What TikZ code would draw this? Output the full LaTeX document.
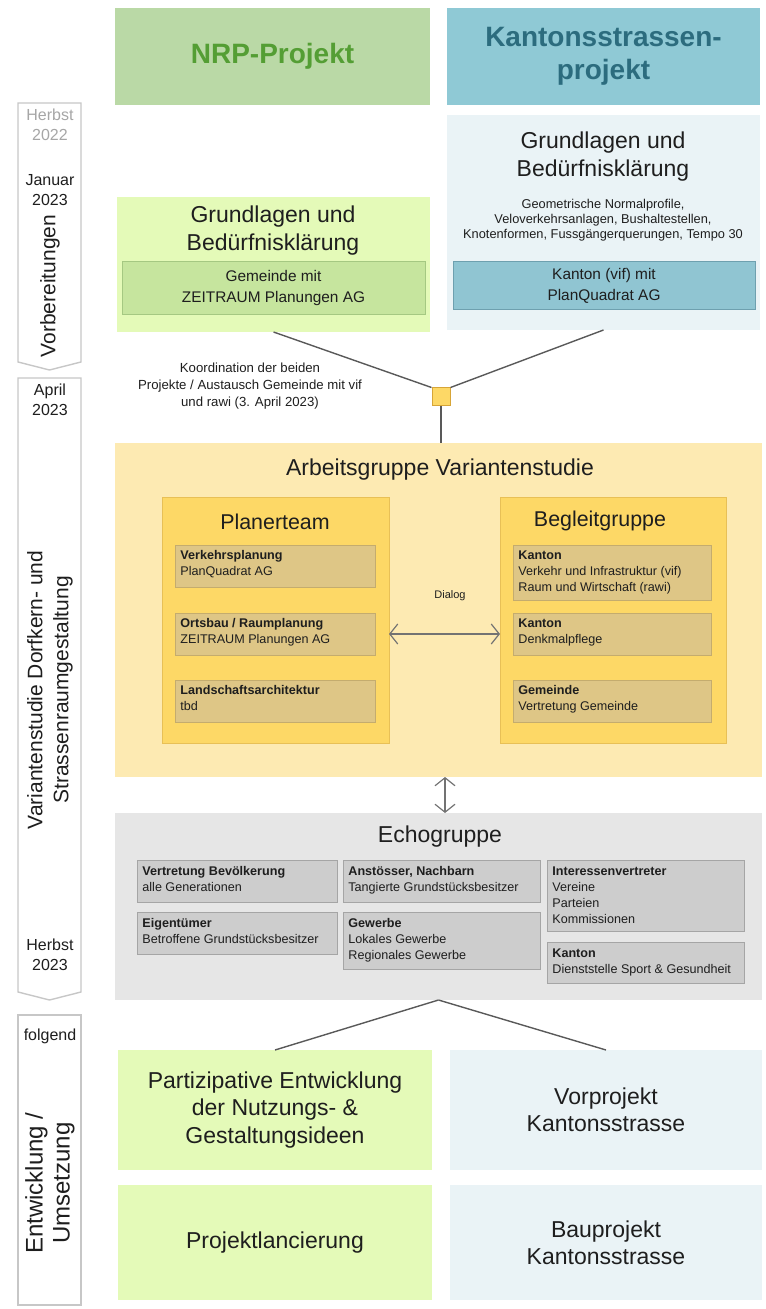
\documentclass[tikz,border=0pt]{standalone}
\usepackage{fontspec}
\setmainfont{Liberation Sans}
\usetikzlibrary{arrows.meta}
\definecolor{nrpHead}{RGB}{186,217,166}
\definecolor{nrpText}{RGB}{84,158,52}
\definecolor{ksHead}{RGB}{143,201,213}
\definecolor{ksText}{RGB}{44,108,126}
\definecolor{lblue}{RGB}{234,243,246}
\definecolor{lime}{RGB}{228,250,184}
\definecolor{igreen}{RGB}{198,229,158}
\definecolor{igreenB}{RGB}{165,200,130}
\definecolor{iblue}{RGB}{144,197,210}
\definecolor{iblueB}{RGB}{110,160,175}
\definecolor{agfill}{RGB}{253,234,178}
\definecolor{yel}{RGB}{253,216,102}
\definecolor{yelB}{RGB}{232,192,86}
\definecolor{tan}{RGB}{222,198,134}
\definecolor{tanB}{RGB}{196,172,110}
\definecolor{sqB}{RGB}{215,165,55}
\definecolor{echo}{RGB}{230,230,230}
\definecolor{esub}{RGB}{205,205,205}
\definecolor{esubB}{RGB}{165,165,165}
\definecolor{txt}{RGB}{30,30,30}
\newcommand\mybox[6]{\node[#6, anchor=north west, inner sep=0pt, outer sep=0pt, minimum width={(#4-#2)*0.5pt}, minimum height={(#5-#3)*0.5pt}] (#1) at (#2,#3) {};}
\tikzset{
  tl/.style={draw=black!22, fill=white, line width=0.7pt},
  tltxt/.style={font=\fontsize{8}{10}\selectfont, align=center, text=txt, inner sep=0pt},
  conn/.style={draw=black!65, line width=0.7pt},
  dbl/.style={draw=black!55, line width=0.6pt, {Straight Barb[length=4pt,width=10pt]}-{Straight Barb[length=4pt,width=10pt]}},
  subg/.style={fill=tan, draw=tanB, line width=0.5pt},
  sube/.style={fill=esub, draw=esubB, line width=0.5pt},
  subtxt/.style={anchor=north west, align=left, inner sep=0pt, text=txt, font=\fontsize{6.3}{8}\selectfont},
  title/.style={align=center, text=txt, inner sep=0pt},
}
\begin{document}
\begin{tikzpicture}[x=0.5pt,y=-0.5pt]
\useasboundingbox (0,0) rectangle (765,1309);
% timeline
\draw[tl] (18,103) -- (81,103) -- (81,362) -- (49.5,370) -- (18,362) -- cycle;
\draw[tl] (18,378) -- (81,378) -- (81,992) -- (49.5,1000) -- (18,992) -- cycle;
\draw[tl] (18,1015) rectangle (81,1305);
\node[tltxt, text=black!35] (h22) at (50,125) {Herbst\\2022};
\node[tltxt] (j23) at (50,190) {Januar\\2023};
\node[tltxt, rotate=90, font=\fontsize{10.5}{12.5}\selectfont] (vorb) at (50,286) {Vorbereitungen};
\node[tltxt] (a23) at (50,400) {April\\2023};
\node[tltxt, rotate=90, font=\fontsize{10.5}{13}\selectfont] (vari) at (50,690) {Variantenstudie Dorfkern- und\\Strassenraumgestaltung};
\node[tltxt] (h23) at (50,955) {Herbst\\2023};
\node[tltxt] (folg) at (50,1036) {folgend};
\node[tltxt, rotate=90, font=\fontsize{12}{13.5}\selectfont] (entw) at (50,1183) {Entwicklung /\\Umsetzung};
% headers
\mybox{nrp}{115}{8}{430}{105}{fill=nrpHead}
\node[title, text=nrpText, font=\fontsize{14}{16.5}\selectfont\bfseries] (nrpt) at (nrp.center) {NRP-Projekt};
\mybox{ks}{447}{8}{760}{105}{fill=ksHead}
\node[title, text=ksText, font=\fontsize{14}{16.5}\selectfont\bfseries] (kst) at (ks.center) {Kantonsstrassen-\\projekt};
% top right
\mybox{tr}{447}{115}{760}{330}{fill=lblue}
\node[title, font=\fontsize{11.5}{14}\selectfont] (trt) at (603,157) {Grundlagen und\\Bedürfnisklärung};
\node[title, font=\fontsize{6.4}{7.6}\selectfont] (trs) at (603,220) {Geometrische Normalprofile,\\Veloverkehrsanlagen, Bushaltestellen,\\Knotenformen, Fussgängerquerungen, Tempo 30};
\mybox{tri}{453}{262}{755}{310}{fill=iblue, draw=iblueB, line width=0.5pt}
\node[title, font=\fontsize{7.7}{10.5}\selectfont] (trit) at (tri.center) {Kanton (vif) mit\\PlanQuadrat AG};
% top left
\mybox{tlb}{117}{197}{430}{332}{fill=lime}
\node[title, font=\fontsize{11.5}{14}\selectfont] (tlt) at (273,231) {Grundlagen und\\Bedürfnisklärung};
\mybox{tli}{122}{262}{425}{315}{fill=igreen, draw=igreenB, line width=0.5pt}
\node[title, font=\fontsize{7.7}{10.5}\selectfont] (tlit) at (tli.center) {Gemeinde mit\\ZEITRAUM Planungen AG};
% coordination
\node[fill=yel, draw=sqB, line width=0.5pt, minimum size=9pt, inner sep=0pt] (sq) at (441,397) {};
\node[title, font=\fontsize{6.6}{8.5}\selectfont] (koord) at (250,386) {Koordination der beiden\\Projekte / Austausch Gemeinde mit vif\\und rawi (3. April 2023)};
% Arbeitsgruppe
\mybox{ag}{115}{443}{762}{777}{fill=agfill}
\node[title, font=\fontsize{11.5}{14}\selectfont] (agt) at (440,470) {Arbeitsgruppe Variantenstudie};
\mybox{pl}{162}{497}{389}{743}{fill=yel, draw=yelB, line width=0.5pt}
\node[title, font=\fontsize{10.7}{13}\selectfont] (plt) at (275,522) {Planerteam};
\mybox{vp}{175}{545}{375}{587}{subg}
\node[subtxt] (vpt) at ([xshift=2.5pt,yshift=-2.5pt]vp.north west) {\textbf{Verkehrsplanung}\\PlanQuadrat AG};
\mybox{ob}{175}{613}{375}{655}{subg}
\node[subtxt] (obt) at ([xshift=2.5pt,yshift=-2.5pt]ob.north west) {\textbf{Ortsbau / Raumplanung}\\ZEITRAUM Planungen AG};
\mybox{la}{175}{680}{375}{722}{subg}
\node[subtxt] (lat) at ([xshift=2.5pt,yshift=-2.5pt]la.north west) {\textbf{Landschaftsarchitektur}\\tbd};
\mybox{bg}{500}{497}{726}{743}{fill=yel, draw=yelB, line width=0.5pt}
\node[title, font=\fontsize{10.7}{13}\selectfont] (bgt) at (600,521) {Begleitgruppe};
\mybox{k1}{513}{545}{711}{600}{subg}
\node[subtxt] (k1t) at ([xshift=2.5pt,yshift=-2.5pt]k1.north west) {\textbf{Kanton}\\Verkehr und Infrastruktur (vif)\\Raum und Wirtschaft (rawi)};
\mybox{k2}{513}{613}{711}{655}{subg}
\node[subtxt] (k2t) at ([xshift=2.5pt,yshift=-2.5pt]k2.north west) {\textbf{Kanton}\\Denkmalpflege};
\mybox{gm}{513}{680}{711}{722}{subg}
\node[subtxt] (gmt) at ([xshift=2.5pt,yshift=-2.5pt]gm.north west) {\textbf{Gemeinde}\\Vertretung Gemeinde};
\node[title, font=\fontsize{5.5}{7}\selectfont] (dia) at (450,596) {Dialog};
% Echogruppe
\mybox{eg}{115}{813}{762}{1000}{fill=echo}
\node[title, font=\fontsize{11.5}{14}\selectfont] (egt) at (440,837) {Echogruppe};
\mybox{e1}{137}{860}{337}{902}{sube}
\node[subtxt] (e1t) at ([xshift=2.5pt,yshift=-3pt]e1.north west) {\textbf{Vertretung Bevölkerung}\\alle Generationen};
\mybox{e2}{137}{912}{337}{954}{sube}
\node[subtxt] (e2t) at ([xshift=2.5pt,yshift=-3pt]e2.north west) {\textbf{Eigentümer}\\Betroffene Grundstücksbesitzer};
\mybox{e3}{343}{860}{540}{902}{sube}
\node[subtxt] (e3t) at ([xshift=2.5pt,yshift=-3pt]e3.north west) {\textbf{Anstösser, Nachbarn}\\Tangierte Grundstücksbesitzer};
\mybox{e4}{343}{912}{540}{969}{sube}
\node[subtxt] (e4t) at ([xshift=2.5pt,yshift=-3pt]e4.north west) {\textbf{Gewerbe}\\Lokales Gewerbe\\Regionales Gewerbe};
\mybox{e5}{547}{860}{744}{931}{sube}
\node[subtxt] (e5t) at ([xshift=2.5pt,yshift=-3pt]e5.north west) {\textbf{Interessenvertreter}\\Vereine\\Parteien\\Kommissionen};
\mybox{e6}{547}{942}{744}{983}{sube}
\node[subtxt] (e6t) at ([xshift=2.5pt,yshift=-3pt]e6.north west) {\textbf{Kanton}\\Dienststelle Sport \& Gesundheit};
% bottom
\mybox{pe}{118}{1050}{432}{1170}{fill=lime}
\node[title, font=\fontsize{11.5}{13.7}\selectfont] (pet) at (pe.center) {Partizipative Entwicklung\\der Nutzungs- \&\\Gestaltungsideen};
\mybox{vk}{450}{1050}{762}{1170}{fill=lblue}
\node[title, font=\fontsize{11.5}{13.7}\selectfont] (vkt) at (vk.center) {Vorprojekt\\Kantonsstrasse};
\mybox{pj}{118}{1185}{432}{1300}{fill=lime}
\node[title, font=\fontsize{11.5}{13.7}\selectfont] (pjt) at (pj.center) {Projektlancierung};
\mybox{bp}{450}{1185}{762}{1300}{fill=lblue}
\node[title, font=\fontsize{11.5}{13.7}\selectfont] (bpt) at (bp.center) {Bauprojekt\\Kantonsstrasse};
% connectors
\draw[conn] (tlb.south) -- (sq.north west);
\draw[conn] (tr.south) -- (sq.north east);
\draw[conn] (sq.south) -- (sq.south |- ag.north);
\draw[dbl] (pl.east |- ob.center) -- (bg.west |- ob.center);
\draw[dbl] ([xshift=3.25pt]ag.south) -- ([xshift=3.25pt]eg.north);
\draw[conn] (eg.south) -- (pe.north);
\draw[conn] (eg.south) -- (vk.north);
\end{tikzpicture}
\end{document}
